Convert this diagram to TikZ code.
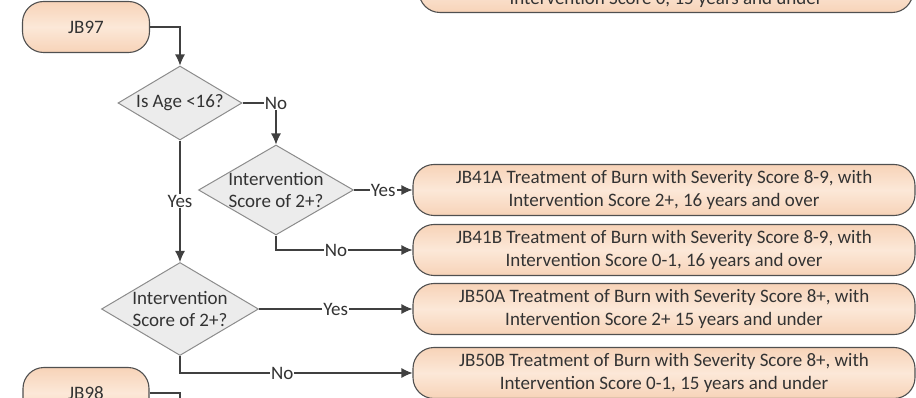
\documentclass[tikz,border=0pt]{standalone}
\usepackage{fontspec}
\setmainfont{Carlito}
\usetikzlibrary{shapes.geometric,arrows.meta}
\definecolor{peach}{RGB}{247,211,184}
\definecolor{peachlight}{RGB}{252,232,216}
\definecolor{boxline}{RGB}{80,80,80}
\definecolor{diafill}{RGB}{236,236,236}
\definecolor{dialine}{RGB}{140,140,140}
\definecolor{wire}{RGB}{64,64,64}
\definecolor{ink}{RGB}{51,51,51}
\begin{document}
\begin{tikzpicture}[x=1pt,y=-1pt,
  font=\fontsize{19}{22.5}\selectfont, text=ink,
  term/.style={draw=boxline, line width=1.1pt, rounded corners=21pt, top color=peach, bottom color=peach, middle color=peachlight, minimum height=51pt, align=center, inner sep=0pt},
  decide/.style={diamond, draw=dialine, line width=1pt, fill=diafill, inner sep=0pt},
  flow/.style={draw=wire, line width=1.1pt, ->, >={Latex[length=11pt,width=10pt]}},
  lbl/.style={fill=white, inner sep=1pt}]
\clip (0,0) rectangle (916,398);
\node[term, minimum width=494pt] (top) at (666,-13) {};
\node (toptext) at (666,-1) {Intervention Score 0, 15 years and under};
\node[term, minimum width=127pt] (jb97) at (86,27) {JB97};
\node[decide, minimum width=124pt, minimum height=74pt, label=center:{Is Age <16?}] (age) at (180,103) {};
\node[decide, minimum width=155pt, minimum height=90pt, label={[align=center]center:Intervention\\Score of 2+?}] (old) at (276,190) {};
\node[decide, minimum width=157pt, minimum height=93pt, label={[align=center]center:Intervention\\Score of 2+?}] (young) at (180,309) {};
\node[term, minimum width=502pt] (jb41a) at (664,190) {JB41A Treatment of Burn with Severity Score 8-9, with\\Intervention Score 2+, 16 years and over};
\node[term, minimum width=502pt] (jb41b) at (664,250) {JB41B Treatment of Burn with Severity Score 8-9, with\\Intervention Score 0-1, 16 years and over};
\node[term, minimum width=502pt] (jb50a) at (664,309) {JB50A Treatment of Burn with Severity Score 8+, with\\Intervention Score 2+ 15 years and under};
\node[term, minimum width=502pt] (jb50b) at (664,373) {JB50B Treatment of Burn with Severity Score 8+, with\\Intervention Score 0-1, 15 years and under};
\node[term, minimum width=126pt] (jb98) at (86,393) {JB98};
\coordinate (down) at (180,430);
\draw[flow] (jb97) -| (age);
\draw[flow] (age) -| node[lbl]{No} (old);
\draw[flow] (age) -- node[lbl]{Yes} (young);
\draw[flow] (old) -- node[lbl]{Yes} (jb41a);
\draw[flow] (old) |- node[lbl, pos=0.72]{No} (jb41b);
\draw[flow] (young) -- node[lbl]{Yes} (jb50a);
\draw[flow] (young) |- node[lbl, pos=0.72]{No} (jb50b);
\draw[flow] (jb98) -| (down);
\end{tikzpicture}
\end{document}
